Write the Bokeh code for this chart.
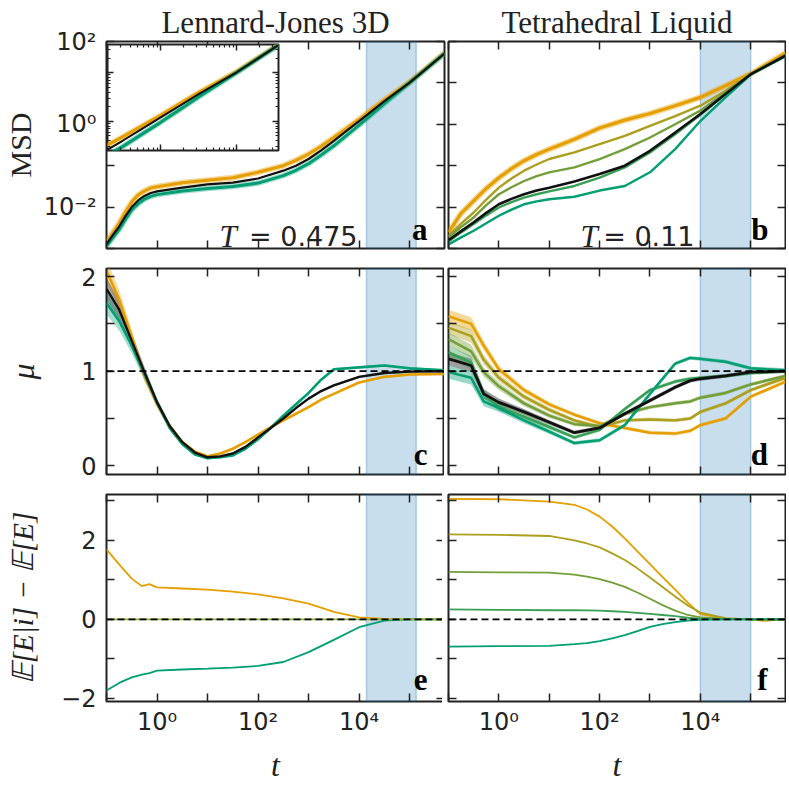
from bokeh.plotting import figure
from bokeh.models import (Range1d, LogAxis, LinearAxis, FixedTicker, Span,
                          BoxAnnotation, Label, GridBox, Column)
from bokeh.embed import file_html
from bokeh.resources import INLINE

# ---------------------------------------------------------------- colours
ORANGE, OLIVE, LGREEN, GREEN, TEAL = "#E69F00", "#ac9f1d", "#739e39", "#399e56", "#009E73"
BLACK = "#111111"
FRAME = "#222222"
SHADE = "#1f77b4"

# ---------------------------------------------------------------- data
# (a) Lennard-Jones MSD
t_a = [0.1, 0.133, 0.178, 0.237, 0.316, 0.422, 0.562, 0.750, 1.0, 3.16, 10.0, 31.6, 100.0,
       316.0, 562.0, 1000.0, 1778.0, 3162.0, 5623.0, 1.0e4, 1.78e4, 3.16e4, 1.0e5, 4.9e5]
msd_lj_hi = [0.00138, 0.00240, 0.00407, 0.00759, 0.0132, 0.0195, 0.0245, 0.0288, 0.0309,
             0.0389, 0.0447, 0.0513, 0.0692, 0.100, 0.135, 0.191, 0.295, 0.479, 0.794, 1.32,
             2.29, 3.89, 10.5, 52.5]
msd_lj_mean = [0.00126, 0.00209, 0.00339, 0.00603, 0.0100, 0.0145, 0.0186, 0.0219, 0.0240,
               0.0295, 0.0355, 0.0389, 0.0490, 0.0759, 0.100, 0.145, 0.234, 0.398, 0.692,
               1.20, 2.09, 3.63, 10.2, 51.3]
msd_lj_lo = [0.00115, 0.00182, 0.00288, 0.00501, 0.00851, 0.0120, 0.0155, 0.0182, 0.0200,
             0.0245, 0.0282, 0.0316, 0.0380, 0.0575, 0.0776, 0.112, 0.182, 0.302, 0.537,
             0.955, 1.74, 3.16, 10.0, 51.3]

# (b) Tetrahedral liquid MSD
t_b = [0.1, 0.178, 0.316, 0.562, 1.0, 1.78, 3.16, 5.62, 10.0, 31.6, 100.0, 316.0, 1000.0,
       3162.0, 1.0e4, 3.16e4, 1.0e5, 4.9e5]
msd_tl_1 = [0.00245, 0.00708, 0.0141, 0.0282, 0.0513, 0.0851, 0.132, 0.186, 0.251, 0.437,
            0.813, 1.26, 1.82, 2.82, 4.47, 8.51, 16.6, 52.5]
msd_tl_2 = [0.00204, 0.00398, 0.00741, 0.0151, 0.0295, 0.0490, 0.0759, 0.107, 0.145, 0.209,
            0.331, 0.525, 0.912, 1.58, 2.82, 6.46, 16.2, 47.9]
msd_tl_3 = [0.00186, 0.00331, 0.00562, 0.0112, 0.0204, 0.0302, 0.0427, 0.0562, 0.0692,
            0.0912, 0.145, 0.251, 0.479, 1.00, 2.14, 5.89, 16.2, 45.7]
msd_tl_mean = [0.00158, 0.00263, 0.00427, 0.00724, 0.0117, 0.0158, 0.0204, 0.0251, 0.0295,
               0.0417, 0.0631, 0.100, 0.229, 0.631, 1.78, 5.37, 16.2, 45.7]
msd_tl_4 = [0.00148, 0.00245, 0.00389, 0.00631, 0.00977, 0.0132, 0.0170, 0.0204, 0.0240,
            0.0324, 0.0513, 0.0912, 0.209, 0.575, 1.70, 5.37, 16.2, 45.7]
msd_tl_5 = [0.00126, 0.00186, 0.00269, 0.00407, 0.00617, 0.00871, 0.0117, 0.0138, 0.0155,
            0.0178, 0.0251, 0.0324, 0.0692, 0.251, 1.20, 4.47, 15.8, 43.7]

# (c) Lennard-Jones mu
t_c = [0.1, 0.178, 0.316, 0.562, 1.0, 1.78, 3.16, 5.62, 10.0, 17.8, 31.6, 56.2, 100.0,
       178.0, 316.0, 562.0, 1000.0, 1778.0, 3162.0, 1.0e4, 3.16e4, 1.0e5, 4.9e5]
mu_lj_hi = [2.06, 1.76, 1.36, 0.95, 0.65, 0.42, 0.25, 0.15, 0.10, 0.13, 0.18, 0.25, 0.33,
            0.41, 0.48, 0.55, 0.62, 0.70, 0.76, 0.88, 0.94, 0.965, 0.97]
mu_lj_mean = [1.87, 1.65, 1.32, 0.99, 0.67, 0.42, 0.25, 0.14, 0.09, 0.10, 0.13, 0.20, 0.30,
              0.40, 0.50, 0.61, 0.71, 0.79, 0.85, 0.94, 0.98, 0.995, 1.0]
mu_lj_lo = [1.72, 1.53, 1.27, 0.97, 0.67, 0.40, 0.23, 0.12, 0.08, 0.09, 0.11, 0.18, 0.28,
            0.40, 0.53, 0.65, 0.77, 0.91, 1.02, 1.04, 1.06, 1.03, 1.01]
mu_lj_err = [0.12, 0.10, 0.08, 0.06, 0.04, 0.03, 0.02, 0.015, 0.012, 0.012, 0.012, 0.012,
             0.012, 0.012, 0.012, 0.012, 0.012, 0.012, 0.012, 0.012, 0.012, 0.012, 0.012]

# (d) Tetrahedral liquid mu
t_d = [0.1, 0.282, 0.501, 1.0, 3.16, 10.0, 31.6, 100.0, 316.0, 1000.0, 3162.0, 6310.0,
       1.0e4, 3.16e4, 1.0e5, 4.9e5]
mu_tl_1 = [1.58, 1.50, 1.27, 1.02, 0.80, 0.65, 0.54, 0.45, 0.40, 0.35, 0.34, 0.37, 0.43,
           0.50, 0.73, 0.89]
mu_tl_2 = [1.46, 1.37, 1.12, 0.93, 0.73, 0.59, 0.48, 0.41, 0.48, 0.49, 0.48, 0.50, 0.57,
           0.66, 0.80, 0.93]
mu_tl_3 = [1.34, 1.21, 0.99, 0.84, 0.66, 0.53, 0.44, 0.42, 0.55, 0.62, 0.66, 0.68, 0.72,
           0.77, 0.86, 0.95]
mu_tl_mean = [1.13, 1.06, 0.76, 0.67, 0.57, 0.46, 0.35, 0.40, 0.55, 0.69, 0.83, 0.90, 0.92,
              0.95, 0.99, 1.00]
mu_tl_4 = [1.20, 1.09, 0.76, 0.62, 0.52, 0.41, 0.30, 0.38, 0.60, 0.80, 0.89, 0.92, 0.93,
           0.95, 0.98, 1.00]
mu_tl_5 = [0.99, 0.93, 0.68, 0.61, 0.48, 0.36, 0.24, 0.27, 0.43, 0.76, 1.08, 1.14, 1.13,
           1.10, 1.03, 1.01]
mu_tl_err = [0.07, 0.07, 0.05, 0.04, 0.03, 0.025, 0.02, 0.02, 0.02, 0.02, 0.02, 0.02, 0.02,
             0.02, 0.02, 0.02]

# (e) Lennard-Jones conditional energy
t_e = [0.1, 0.178, 0.316, 0.501, 0.708, 1.0, 3.16, 10.0, 31.6, 100.0, 316.0, 1000.0,
       3162.0, 1.0e4, 3.16e4, 1.0e5, 4.9e5]
en_lj_hi = [1.77, 1.39, 1.03, 0.84, 0.89, 0.81, 0.78, 0.75, 0.70, 0.63, 0.53, 0.40, 0.19,
            0.05, 0.01, 0.0, 0.0]
en_lj_mid = [0.0, 0.0, 0.0, 0.0, 0.0, 0.0, 0.0, 0.0, 0.0, 0.0, 0.0, 0.0, 0.0, 0.0, 0.0,
             0.0, 0.0]
en_lj_lo = [-1.80, -1.61, -1.47, -1.40, -1.36, -1.30, -1.27, -1.25, -1.22, -1.18, -1.08,
            -0.83, -0.52, -0.20, -0.03, 0.0, 0.0]

# (f) Tetrahedral liquid conditional energy
t_f = [0.1, 1.0, 10.0, 31.6, 56.2, 100.0, 178.0, 316.0, 562.0, 1000.0, 1778.0, 3162.0,
       5623.0, 1.0e4, 3.16e4, 1.0e5, 1.78e5, 4.9e5]
en_tl_1 = [3.05, 3.04, 2.98, 2.90, 2.78, 2.60, 2.35, 2.05, 1.72, 1.40, 1.07, 0.75, 0.42,
           0.13, 0.02, 0.0, -0.04, 0.0]
en_tl_2 = [2.15, 2.14, 2.11, 2.00, 1.92, 1.82, 1.67, 1.50, 1.29, 1.06, 0.82, 0.58, 0.35,
           0.17, 0.03, 0.0, 0.0, 0.0]
en_tl_3 = [1.20, 1.19, 1.18, 1.13, 1.08, 1.02, 0.93, 0.82, 0.68, 0.52, 0.36, 0.22, 0.11,
           0.05, 0.01, 0.0, 0.0, 0.0]
en_tl_4 = [0.25, 0.24, 0.23, 0.23, 0.225, 0.22, 0.205, 0.19, 0.165, 0.14, 0.11, 0.08, 0.04,
           0.01, 0.0, 0.0, 0.0, 0.0]
en_tl_5 = [-0.69, -0.68, -0.67, -0.63, -0.60, -0.55, -0.48, -0.40, -0.30, -0.19, -0.12,
           -0.07, -0.03, -0.01, 0.0, 0.0, 0.0, 0.0]

# shaded time windows
shade_lj = (1.4e4, 1.35e5)
shade_tl = (1.0e4, 1.0e5)

# ticks
X_TICKS = [0.1, 1.0, 10.0, 100.0, 1e3, 1e4, 1e5]
X_LABELS = {1.0: "10⁰", 100.0: "10²", 1e4: "10⁴"}
MSD_TICKS = [1e-3, 1e-2, 0.1, 1.0, 10.0, 100.0]
MSD_LABELS = {1e-2: "10⁻²", 1.0: "10⁰", 100.0: "10²"}
MU_TICKS = [0.0, 0.5, 1.0, 1.5, 2.0]
MU_LABELS = {0.0: "0", 1.0: "1", 2.0: "2"}
EN_TICKS = [-2.0, -1.0, 0.0, 1.0, 2.0, 3.0]
EN_LABELS = {-2.0: "−2", 0.0: "0", 2.0: "2"}

SERIF = "Liberation Serif"
SANS = "DejaVu Sans"


def setup_axis(ax, ticks, labels, minor=None, major_len=8, minor_len=4, standoff=10):
    ax.ticker = FixedTicker(ticks=ticks, minor_ticks=minor or [])
    ax.major_tick_in = major_len
    ax.major_tick_out = 0
    ax.minor_tick_in = minor_len
    ax.minor_tick_out = 0
    ax.major_tick_line_color = FRAME
    ax.major_tick_line_width = 1.5
    ax.minor_tick_line_color = FRAME
    ax.minor_tick_line_width = 1.2
    ax.axis_line_color = None
    ax.major_label_text_font = SANS
    ax.major_label_text_color = FRAME
    if labels:
        ax.major_label_overrides = {t: labels.get(t, "") for t in ticks}
        ax.major_label_text_font_size = "24px"
        ax.major_label_standoff = standoff
    else:
        ax.major_label_overrides = {t: "" for t in ticks}
        ax.major_label_text_font_size = "0px"
        ax.major_label_standoff = 0


def panel(col, row, y_type, y_rng, y_ticks, y_labels, title=None):
    p = figure(x_axis_type="log", y_axis_type=y_type,
               x_range=Range1d(0.1, 4.9e5), y_range=Range1d(*y_rng),
               frame_width=338 if col == 0 else 337,
               frame_height=206 if row == 1 else 207,
               min_border_left=99 if col == 0 else 2,
               min_border_right=2 if col == 0 else 1,
               min_border_top=36 if row == 0 else 10,
               min_border_bottom=72 if row == 2 else 10,
               output_backend="svg", toolbar_location=None,
               title=title)
    p.outline_line_color = FRAME
    p.outline_line_width = 2
    p.xgrid.visible = False
    p.ygrid.visible = False
    p.background_fill_color = "white"
    p.border_fill_color = "white"
    bottom_ax = p.xaxis[0]
    setup_axis(bottom_ax, X_TICKS, X_LABELS if row == 2 else None, standoff=6)
    setup_axis(p.yaxis[0], y_ticks, y_labels if col == 0 else None)
    top_ax = LogAxis()
    setup_axis(top_ax, X_TICKS, None)
    p.add_layout(top_ax, "above")
    right_ax = LogAxis() if y_type == "log" else LinearAxis()
    setup_axis(right_ax, y_ticks, None)
    p.add_layout(right_ax, "right")
    if row == 2:
        bottom_ax.axis_label = "t"
        bottom_ax.axis_label_text_font = SERIF
        bottom_ax.axis_label_text_font_style = "italic"
        bottom_ax.axis_label_text_font_size = "32px"
        bottom_ax.axis_label_text_color = FRAME
        bottom_ax.axis_label_standoff = 8
    if title:
        p.title.align = "center"
        p.title.text_font = SERIF
        p.title.text_font_style = "normal"
        p.title.text_font_size = "31px"
        p.title.text_color = FRAME
        p.title.standoff = 4
    return p


def ylabel(p, text, style, standoff, size="30px"):
    ax = p.yaxis[0]
    ax.axis_label = text
    ax.axis_label_text_font = SERIF
    ax.axis_label_text_font_style = style
    ax.axis_label_text_font_size = size
    ax.axis_label_text_color = FRAME
    ax.axis_label_standoff = standoff


def shade(p, span):
    p.add_layout(BoxAnnotation(left=span[0], right=span[1], fill_color=SHADE,
                               fill_alpha=0.24, line_color=SHADE, line_alpha=0.3,
                               line_width=1.5, level="underlay"))


def hline(p, loc):
    p.add_layout(Span(location=loc, dimension="width", line_color="black",
                      line_dash="7 4", line_width=1.6))


def letter(p, x, y, text):
    p.add_layout(Label(x=x, y=y, text=text, text_align="right",
                       text_baseline="alphabetic", text_font=SERIF,
                       text_font_style="bold", text_font_size="31px",
                       text_color="black"))


def temp(p, xt, xv, y, val):
    p.add_layout(Label(x=xt, y=y, text="T", text_align="right", text_baseline="alphabetic",
                       text_font=SERIF, text_font_style="italic",
                       text_font_size="31px", text_color=FRAME))
    p.add_layout(Label(x=xv, y=y, text="= " + val, text_align="right",
                       text_baseline="alphabetic", text_font=SANS,
                       text_font_size="27px", text_color=FRAME))


def thick(p, x, y, color, w=2.6, halo=5.5, halo_alpha=0.35):
    if halo:
        p.line(x, y, line_color=color, line_width=halo, line_alpha=halo_alpha)
    p.line(x, y, line_color=color, line_width=w)


# ---------------------------------------------------------------- (a)
pa = panel(0, 0, "log", (1e-3, 1e2), MSD_TICKS, MSD_LABELS, "Lennard-Jones 3D")
ylabel(pa, "MSD", "normal", 4)
shade(pa, shade_lj)
thick(pa, t_a, msd_lj_hi, ORANGE, 3.0, 6.0, 0.4)
thick(pa, t_a, msd_lj_lo, TEAL, 3.0, 5.5, 0.35)
thick(pa, t_a, msd_lj_mean, BLACK, 2.2, 0)
temp(pa, 38.0, 9.29e3, 2.0e-3, "0.475")
letter(pa, 2.26e5, 2.8e-3, "a")

# ---------------------------------------------------------------- (b)
pb = panel(1, 0, "log", (1e-3, 1e2), MSD_TICKS, MSD_LABELS, "Tetrahedral Liquid")
shade(pb, shade_tl)
thick(pb, t_b, msd_tl_1, ORANGE, 3.2, 6.0, 0.4)
thick(pb, t_b, msd_tl_2, OLIVE, 2.4, 0)
thick(pb, t_b, msd_tl_3, LGREEN, 2.4, 0)
thick(pb, t_b, msd_tl_4, GREEN, 2.4, 0)
thick(pb, t_b, msd_tl_5, TEAL, 2.4, 0)
thick(pb, t_b, msd_tl_mean, BLACK, 2.6, 0)
temp(pb, 92.0, 7.66e3, 2.0e-3, "0.11")
letter(pb, 2.25e5, 2.8e-3, "b")

# ---------------------------------------------------------------- (c)
pc = panel(0, 1, "linear", (-0.092, 2.085), MU_TICKS, MU_LABELS)
ylabel(pc, "μ", "italic", 37, "32px")
shade(pc, shade_lj)
for ys, c in ((mu_lj_hi, ORANGE), (mu_lj_lo, TEAL), (mu_lj_mean, BLACK)):
    pc.varea(x=t_c, y1=[v - e for v, e in zip(ys, mu_lj_err)],
             y2=[v + e for v, e in zip(ys, mu_lj_err)], fill_color=c, fill_alpha=0.35)
thick(pc, t_c, mu_lj_hi, ORANGE, 2.6, 0)
thick(pc, t_c, mu_lj_lo, TEAL, 2.6, 0)
thick(pc, t_c, mu_lj_mean, BLACK, 2.4, 0)
hline(pc, 1.0)
letter(pc, 2.26e5, 0.12, "c")

# ---------------------------------------------------------------- (d)
pd = panel(1, 1, "linear", (-0.092, 2.085), MU_TICKS, MU_LABELS)
shade(pd, shade_tl)
for ys, c in ((mu_tl_1, ORANGE), (mu_tl_2, OLIVE), (mu_tl_3, LGREEN),
              (mu_tl_mean, BLACK), (mu_tl_4, GREEN), (mu_tl_5, TEAL)):
    pd.varea(x=t_d, y1=[v - e for v, e in zip(ys, mu_tl_err)],
             y2=[v + e for v, e in zip(ys, mu_tl_err)], fill_color=c, fill_alpha=0.4)
for ys, c in ((mu_tl_1, ORANGE), (mu_tl_2, OLIVE), (mu_tl_3, LGREEN),
              (mu_tl_4, GREEN), (mu_tl_5, TEAL)):
    thick(pd, t_d, ys, c, 2.5, 0)
thick(pd, t_d, mu_tl_mean, BLACK, 2.8, 0)
hline(pd, 1.0)
letter(pd, 2.2e5, 0.12, "d")

# ---------------------------------------------------------------- (e)
pe = panel(0, 2, "linear", (-2.08, 3.16), EN_TICKS, EN_LABELS)
ylabel(pe, "𝔼[E|i] − 𝔼[E]", "italic", 19, "29px")
shade(pe, shade_lj)
thick(pe, t_e, en_lj_hi, ORANGE, 1.8, 0)
thick(pe, t_e, en_lj_lo, TEAL, 1.8, 0)
thick(pe, t_e, en_lj_mid, "#8db33a", 1.8, 0)
hline(pe, 0.0)
letter(pe, 2.26e5, -1.53, "e")

# ---------------------------------------------------------------- (f)
pf = panel(1, 2, "linear", (-2.08, 3.16), EN_TICKS, EN_LABELS)
shade(pf, shade_tl)
for ys, c in ((en_tl_1, ORANGE), (en_tl_2, OLIVE), (en_tl_3, LGREEN),
              (en_tl_4, GREEN), (en_tl_5, TEAL)):
    thick(pf, t_f, ys, c, 1.8, 0)
hline(pf, 0.0)
letter(pf, 2.15e5, -1.53, "f")

# ---------------------------------------------------------------- inset of (a)
fin = figure(x_axis_type="log", y_axis_type="log",
             x_range=Range1d(2.0e3, 3.55e5), y_range=Range1d(0.251, 38.0),
             frame_width=171, frame_height=106, min_border=2,
             output_backend="svg", toolbar_location=None)
fin.outline_line_color = FRAME
fin.outline_line_width = 2
fin.xgrid.visible = False
fin.ygrid.visible = False
fin.background_fill_color = "white"
fin.border_fill_alpha = 0
in_xt = [1e3, 1e4, 1e5, 1e6]
in_xm = [m * 10 ** k for k in (3, 4, 5) for m in range(2, 10)]
in_yt = [0.1, 1.0, 10.0, 100.0]
in_ym = [m * 10.0 ** k for k in (-1, 0, 1) for m in range(2, 10)]
setup_axis(fin.xaxis[0], in_xt, None, in_xm, 6, 3)
setup_axis(fin.yaxis[0], in_yt, None, in_ym, 6, 3)
ax_t = LogAxis()
setup_axis(ax_t, in_xt, None, in_xm, 6, 3)
fin.add_layout(ax_t, "above")
ax_r = LogAxis()
setup_axis(ax_r, in_yt, None, in_ym, 6, 3)
fin.add_layout(ax_r, "right")
thick(fin, t_a, msd_lj_hi, ORANGE, 3.2, 5.5, 0.4)
thick(fin, t_a, msd_lj_lo, TEAL, 3.2, 5.5, 0.35)
thick(fin, t_a, msd_lj_mean, BLACK, 2.0, 0)
fin.styles = {"position": "absolute", "left": "105px", "top": "42px", "z-index": "5"}

grid = GridBox(children=[(pa, 0, 0), (pb, 0, 1), (pc, 1, 0), (pd, 1, 1),
                         (pe, 2, 0), (pf, 2, 1)], spacing=0)
page = Column(children=[grid, fin], spacing=0)

open("out.html", "w").write(file_html(page, INLINE))
